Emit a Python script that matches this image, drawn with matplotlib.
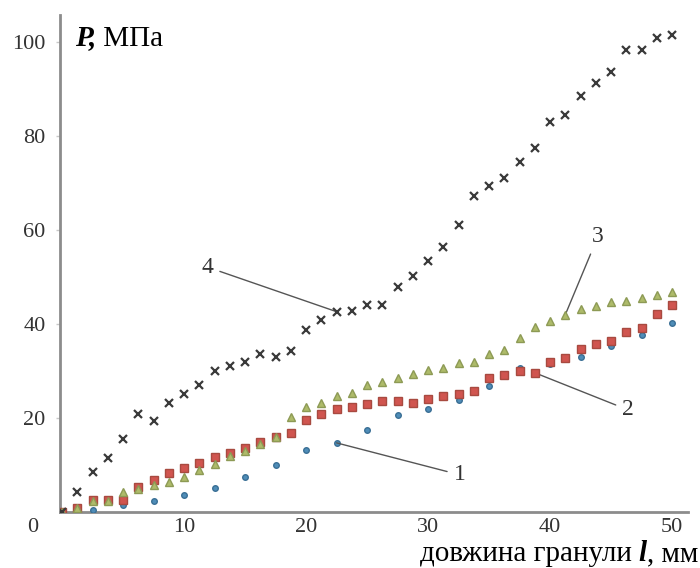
import matplotlib
matplotlib.use('Agg')
import matplotlib.pyplot as plt
from matplotlib.offsetbox import TextArea, HPacker, AnchoredOffsetbox

plt.rcParams['font.family'] = ['Liberation Serif', 'DejaVu Serif']

# довжина гранули, мм
length = [0, 1.25, 2.5, 3.75, 5, 6.25, 7.5, 8.75, 10, 11.25, 12.5, 13.75, 15, 16.25,
          17.5, 18.75, 20, 21.25, 22.5, 23.75, 25, 26.25, 27.5, 28.75, 30, 31.25,
          32.5, 33.75, 35, 36.25, 37.5, 38.75, 40, 41.25, 42.5, 43.75, 45, 46.25,
          47.5, 48.75, 50]
length_1 = [0, 2.5, 5, 7.5, 10, 12.5, 15, 17.5, 20, 22.5, 25, 27.5, 30, 32.5, 35,
            37.5, 40, 42.5, 45, 47.5, 50]

# тиск P, МПа
p1 = [0, 0.4, 1.5, 2.3, 3.6, 5.1, 7.5, 10.0, 13.2, 14.7, 17.5, 20.7, 22.0, 23.9,
      26.7, 30.7, 31.5, 33.0, 35.4, 37.7, 40.1]
p2 = [0, 0.85, 2.6, 2.6, 2.6, 5.3, 6.8, 8.3, 9.3, 10.5, 11.7, 12.6, 13.6, 14.9,
      16.0, 16.7, 19.5, 20.9, 22.0, 22.3, 23.0, 23.5, 23.5, 23.2, 24.1, 24.7, 25.2,
      25.8, 28.6, 29.2, 30.0, 29.6, 32.0, 32.8, 34.6, 35.7, 36.3, 38.3, 39.1, 42.1, 44.0]
p3 = [0, 0.9, 2.4, 2.4, 4.2, 4.8, 5.8, 6.4, 7.4, 9.0, 10.2, 12.0, 13.0, 14.5, 16.0,
      20.3, 22.4, 23.2, 24.7, 25.4, 27.1, 27.7, 28.4, 29.4, 30.1, 30.7, 31.6, 32.0,
      33.5, 34.5, 37.1, 39.3, 40.7, 42.0, 43.1, 43.9, 44.6, 44.8, 45.6, 46.1, 46.7]
p4 = [0, 4.3, 8.5, 11.5, 15.5, 20.9, 19.4, 23.2, 25.2, 27.1, 29.9, 31.1, 31.8, 33.5,
      33.0, 34.3, 38.6, 40.9, 42.6, 42.8, 44.0, 44.0, 47.8, 50.1, 53.3, 56.3, 61.0,
      67.2, 69.3, 71.0, 74.4, 77.4, 82.9, 84.4, 88.5, 91.3, 93.6, 98.3, 98.3, 100.9, 101.5]

fig = plt.figure(figsize=(7, 5.68), dpi=100)
ax = fig.add_axes([0.0851, 0.0986, 0.8978, 0.875])

ax.plot(length_1, p1, ls='none', marker='o', ms=4, color='#4f8db8',
        mec='#3a6f95', zorder=3)
ax.plot(length, p2, ls='none', marker='s', ms=5.5, color='#d0554f',
        mec='#a84a40', zorder=4)
ax.plot(length, p3, ls='none', marker='^', ms=5.5, color='#aebb6a',
        mec='#8d9a55', zorder=5)
ax.plot(length, p4, ls='none', marker='x', ms=6, mew=1.6, color='#3a3a3a', zorder=6)

ax.set_xlim(-0.2, 51.3)
ax.set_ylim(0, 105.7)

for s in ['top', 'right']:
    ax.spines[s].set_visible(False)
for s in ['left', 'bottom']:
    ax.spines[s].set_color('#8c8c8c')
    ax.spines[s].set_linewidth(2)

ax.set_xticks([10, 20, 30, 40, 50])
ax.set_yticks([20, 40, 60, 80, 100])
ax.tick_params(axis='both', labelsize=16, colors='#c8c8c8', labelcolor='#333333',
               length=3, width=1)
ax.tick_params(axis='y', pad=7)
ax.tick_params(axis='x', pad=4, length=0)

fig.text(33 / 700, 1 - 528 / 568, '0', ha='center', va='center', fontsize=16,
         color='#333333')

# підписи осей
xl = HPacker(children=[
    TextArea('довжина гранули ', textprops=dict(fontsize=21, color='black')),
    TextArea('l', textprops=dict(fontsize=21, color='black', weight='bold', style='italic')),
    TextArea(', мм', textprops=dict(fontsize=21, color='black')),
], align='baseline', pad=0, sep=0)
ax.add_artist(AnchoredOffsetbox(loc='lower right', child=xl, pad=0, borderpad=0,
                                frameon=False, bbox_to_anchor=(698 / 700, 1 / 568),
                                bbox_transform=fig.transFigure))

yl = HPacker(children=[
    TextArea('P,', textprops=dict(fontsize=21, color='black', weight='bold', style='italic')),
    TextArea(' МПа', textprops=dict(fontsize=21, color='black')),
], align='baseline', pad=0, sep=0)
ax.add_artist(AnchoredOffsetbox(loc='center left', child=yl, pad=0, borderpad=0,
                                frameon=False, bbox_to_anchor=(75 / 700, 1 - 38 / 568),
                                bbox_transform=fig.transFigure))

# номери кривих
line = dict(arrowstyle='-', color='#555555', lw=1, shrinkA=3, shrinkB=0)
ax.annotate('1', xy=(length_1[9], p1[9]), xytext=(32.6, 7.9), ha='center', va='center',
            fontsize=17, color='#333333', arrowprops=line)
ax.annotate('2', xy=(length[31], p2[31]), xytext=(46.4, 21.7), ha='center', va='center',
            fontsize=17, color='#333333', arrowprops=line)
ax.annotate('3', xy=(length[33], p3[33]), xytext=(43.9, 58.5), ha='center', va='center',
            fontsize=17, color='#333333', arrowprops=line)
ax.annotate('4', xy=(length[18], p4[18]), xytext=(11.9, 52.1), ha='center', va='center',
            fontsize=17, color='#333333', arrowprops=line)

fig.savefig('out.png', dpi=100)
